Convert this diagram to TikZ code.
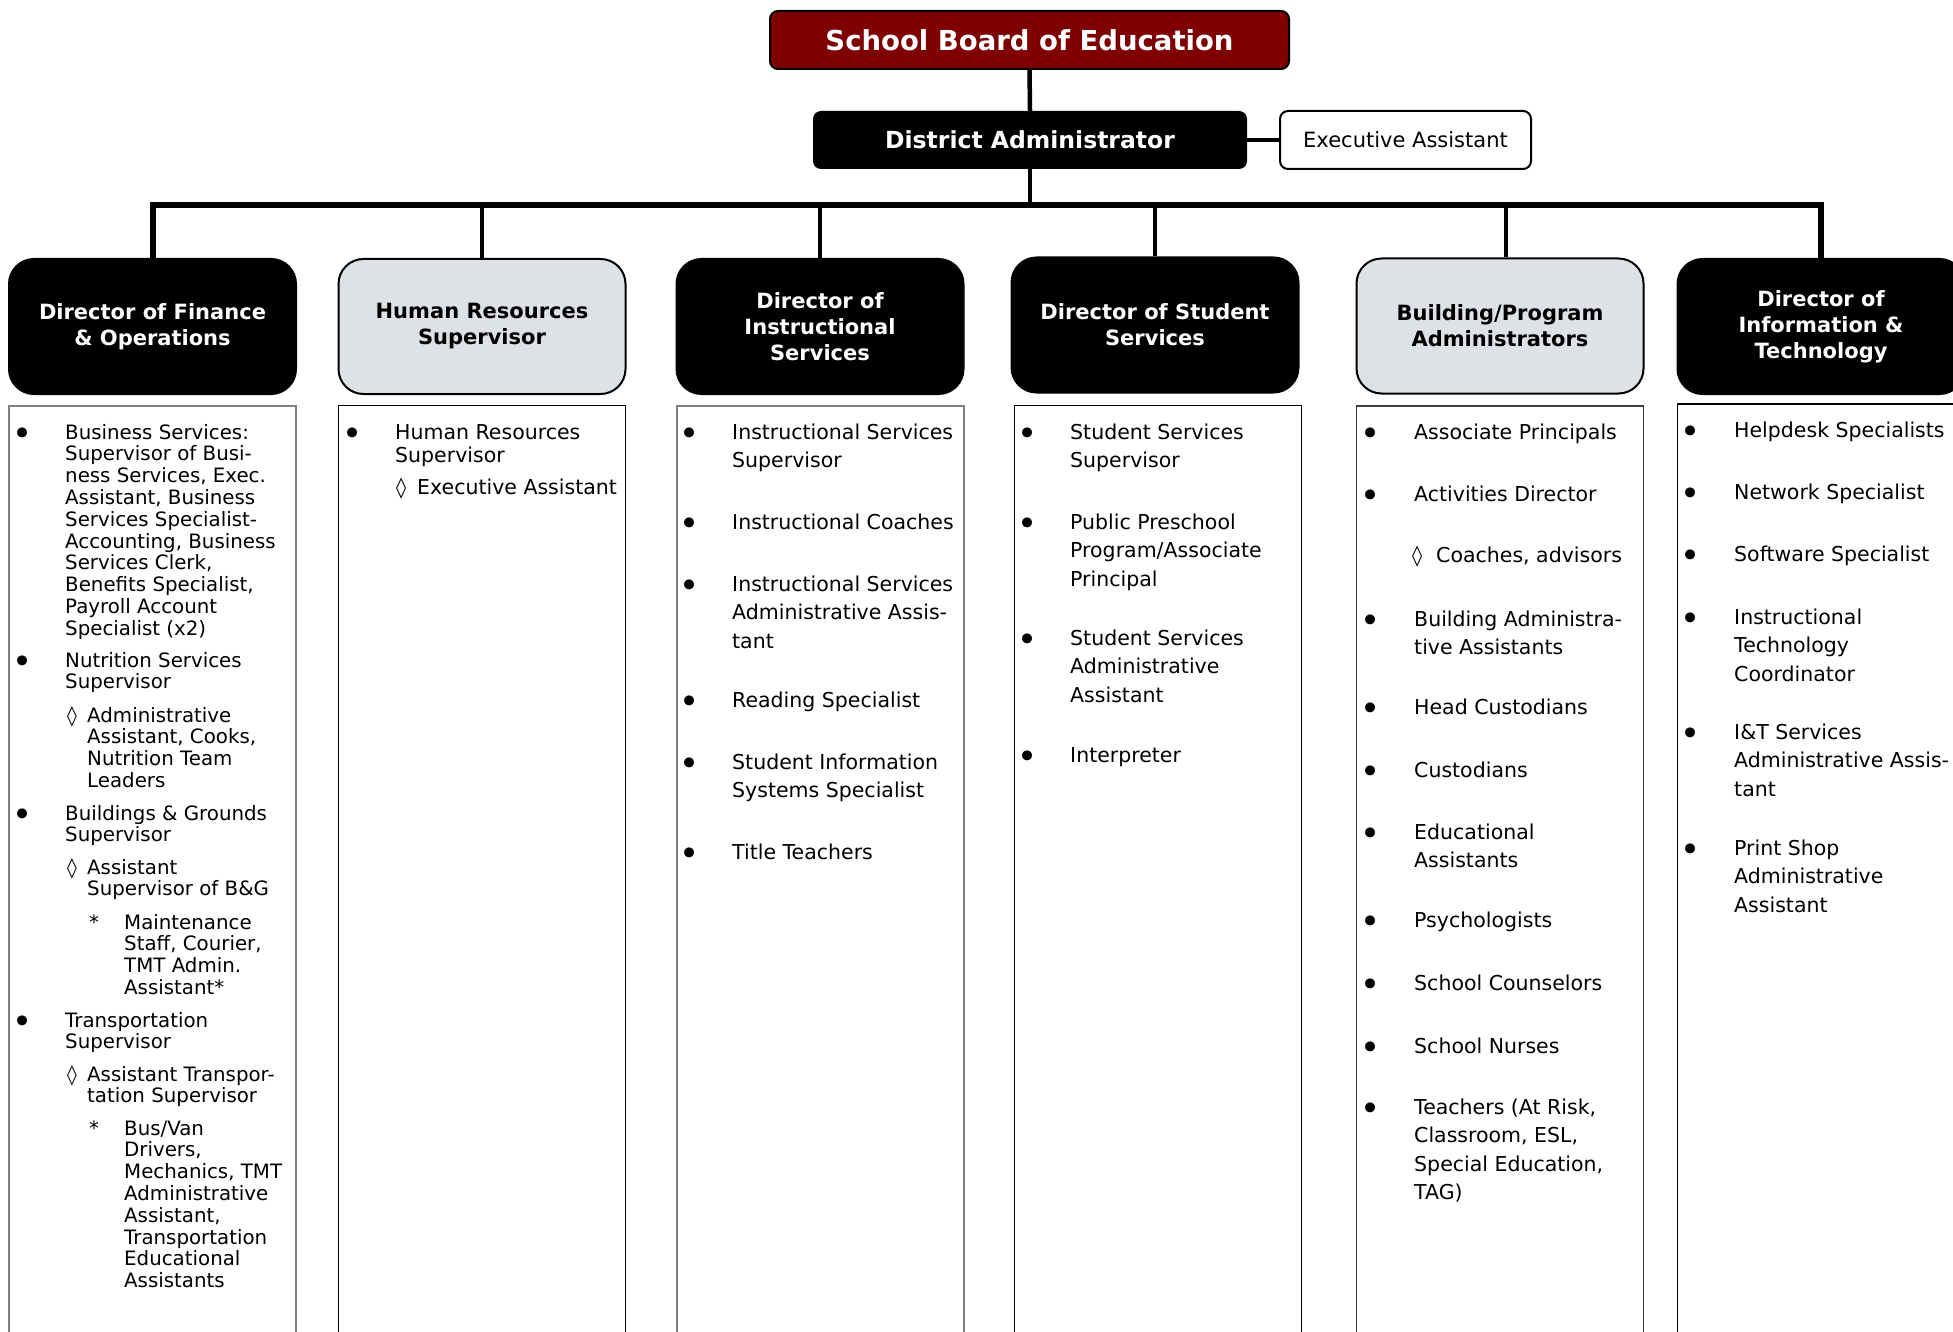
\documentclass[tikz,border=0pt]{standalone}
\usepackage{fontspec}
\setmainfont{DejaVu Sans}
\definecolor{sbred}{HTML}{7F0000}
\definecolor{hdrgray}{HTML}{DEE1E6}
\definecolor{boxgray}{HTML}{808080}
\newcommand{\ml}[1]{\begin{tabular}[t]{@{}l@{}}#1\end{tabular}}
\newcommand{\itmfont}{\fontsize{20.5}{28.6}\selectfont}
\newcommand{\finfont}{\fontsize{19.8}{21.8}\selectfont}
\newcommand{\hrfont}{\fontsize{20.5}{23.7}\selectfont}
\newcommand{\hdrfont}{\bfseries\fontsize{21}{26}\selectfont}
\newcommand{\bulfont}{\fontsize{34}{34}\selectfont}
\newcommand{\B}{{\bulfont •}}
\newcommand{\D}{◊}
\newcommand{\mitem}[6]{%
  \node[mk] (#1m) at (#3,#5) {#2};
  \node[itm] (#1) at (#4,#5) {\ml{#6}};}
\newcommand{\bitem}[5]{%
  \node[bk] (#1m) at (#2,#4) {\B};
  \node[itm] (#1) at (#3,#4) {\ml{#5}};}
\begin{document}
\begin{tikzpicture}[x=1pt,y=-1pt,
  hdr/.style={rounded corners=25pt, minimum width=287pt, minimum height=135pt,
    align=center, font=\hdrfont, line width=2pt, draw=black, inner sep=0pt},
  darkhdr/.style={hdr, fill=black, text=white},
  lighthdr/.style={hdr, fill=hdrgray, text=black},
  lowbox/.style={minimum width=287pt, minimum height=1000pt, inner sep=0pt, anchor=north},
  conn/.style={line width=4.5pt, draw=black},
  barline/.style={line width=6pt, draw=black, line join=miter},
  mk/.style={anchor=base west, inner sep=0pt, font=\itmfont},
  bk/.style={anchor=base, inner sep=0pt, yshift=-6pt},
  itm/.style={anchor=base west, inner sep=0pt, font=\itmfont},
  ]
\useasboundingbox (0,0) rectangle (1953,1332);
\clip (0,0) rectangle (1953,1332);
\fill[white] (0,0) rectangle (1953,1332);

% top
\node[draw=black, line width=2pt, fill=sbred, text=white, rounded corners=8pt,
  minimum width=519pt, minimum height=58pt, font=\bfseries\fontsize{27.5}{30}\selectfont]
  (sb) at (1029.5,40) {School Board of Education};
\node[fill=black, text=white, rounded corners=8pt, minimum width=434pt, minimum height=58pt,
  font=\bfseries\fontsize{23.5}{26}\selectfont] (da) at (1030,140) {District Administrator};
\node[draw=black, line width=2pt, fill=white, rounded corners=8pt, minimum width=251pt,
  minimum height=58pt, font=\fontsize{21}{24}\selectfont] (ea) at (1405.5,140) {Executive Assistant};

% headers
\node[darkhdr] (h1) at (152.5,326.5) {Director of Finance\\\& Operations};
\node[lighthdr] (h2) at (482,326.5) {Human Resources\\Supervisor};
\node[darkhdr] (h3) at (820,326.5) {Director of\\Instructional\\Services};
\node[darkhdr] (h4) at (1155,325) {Director of Student\\Services};
\node[lighthdr] (h5) at (1500,326) {Building/Program\\Administrators};
\node[darkhdr] (h6) at (1821,326.5) {Director of\\Information \&\\Technology};

% connectors
\coordinate (barL) at (152.5,205);
\draw[conn] (sb.south) -- (da.north);
\draw[conn] (da.east) -- (ea.west);
\draw[conn] (da.south) -- (da.south |- barL);
\draw[barline] (h1.north) -- (h1.north |- barL) -- (h6.north |- barL) -- (h6.north);
\draw[conn] (h2.north) -- (h2.north |- barL);
\draw[conn] (h3.north) -- (h3.north |- barL);
\draw[conn] (h4.north) -- (h4.north |- barL);
\draw[conn] ([xshift=6pt]h5.north) -- ([xshift=6pt]h5.north |- barL);

% lower boxes
\node[lowbox, draw=boxgray, line width=2.2pt] (l1) at (152.5,405) {};
\node[lowbox, draw=black, line width=1.4pt] (l2) at (482,405) {};
\node[lowbox, draw=boxgray, line width=2pt] (l3) at (820,405) {};
\node[lowbox, draw=black, line width=1.4pt] (l4) at (1158,405) {};
\node[lowbox, draw=black!75, line width=1.8pt] (l5) at (1500,405) {};
\node[lowbox, draw=black, line width=1.6pt] (l6) at (1821,403) {};

% column 1
\begin{scope}[itm/.append style={font=\finfont}, mk/.append style={font=\finfont}]
\bitem{f1}{23}{65}{439}{Business Services:\\Supervisor of Busi-\\ness Services, Exec.\\Assistant, Business\\Services Specialist-\\Accounting, Business\\Services Clerk,\\Benefits Specialist,\\Payroll Account\\Specialist (x2)}
\bitem{f2}{23}{65}{667}{Nutrition Services\\Supervisor}
\mitem{f2a}{\D}{67}{87}{722}{Administrative\\Assistant, Cooks,\\Nutrition Team\\Leaders}
\bitem{f3}{23}{65}{820}{Buildings \& Grounds\\Supervisor}
\mitem{f3a}{\D}{67}{87}{874}{Assistant\\Supervisor of B\&G}
\mitem{f3b}{*}{89}{124}{929}{Maintenance\\Staff, Courier,\\TMT Admin.\\Assistant*}
\bitem{f4}{23}{65}{1027}{Transportation\\Supervisor}
\mitem{f4a}{\D}{67}{87}{1081}{Assistant Transpor-\\tation Supervisor}
\mitem{f4b}{*}{89}{124}{1135}{Bus/Van\\Drivers,\\Mechanics, TMT\\Administrative\\Assistant,\\Transportation\\Educational\\Assistants}
\end{scope}

% column 2
\begin{scope}[itm/.append style={font=\hrfont}, mk/.append style={font=\hrfont}]
\bitem{r1}{353}{395}{439}{Human Resources\\Supervisor}
\mitem{r1a}{\D}{396}{417}{494}{Executive Assistant}
\end{scope}

% column 3
\bitem{i1}{690}{732}{439}{Instructional Services\\Supervisor}
\bitem{i2}{690}{732}{529}{Instructional Coaches}
\bitem{i3}{690}{732}{591}{Instructional Services\\Administrative Assis-\\tant}
\bitem{i4}{690}{732}{707}{Reading Specialist}
\bitem{i5}{690}{732}{769}{Student Information\\Systems Specialist}
\bitem{i6}{690}{732}{859}{Title Teachers}

% column 4
\bitem{s1}{1028}{1070}{439}{Student Services\\Supervisor}
\bitem{s2}{1028}{1070}{529}{Public Preschool\\Program/Associate\\Principal}
\bitem{s3}{1028}{1070}{645}{Student Services\\Administrative\\Assistant}
\bitem{s4}{1028}{1070}{762}{Interpreter}

% column 5
\bitem{b1}{1371}{1414}{439}{Associate Principals}
\bitem{b2}{1371}{1414}{501}{Activities Director}
\mitem{b2a}{\D}{1412}{1436}{562}{Coaches, advisors}
\bitem{b3}{1371}{1414}{626}{Building Administra-\\tive Assistants}
\bitem{b4}{1371}{1414}{714}{Head Custodians}
\bitem{b5}{1371}{1414}{777}{Custodians}
\bitem{b6}{1371}{1414}{839}{Educational\\Assistants}
\bitem{b7}{1371}{1414}{927}{Psychologists}
\bitem{b8}{1371}{1414}{990}{School Counselors}
\bitem{b9}{1371}{1414}{1053}{School Nurses}
\bitem{b10}{1371}{1414}{1114}{Teachers (At Risk,\\Classroom, ESL,\\Special Education,\\TAG)}

% column 6
\bitem{t1}{1691}{1734}{437}{Helpdesk Specialists}
\bitem{t2}{1691}{1734}{499}{Network Specialist}
\bitem{t3}{1691}{1734}{561}{Software Specialist}
\bitem{t4}{1691}{1734}{624}{Instructional\\Technology\\Coordinator}
\bitem{t5}{1691}{1734}{739}{I\&T Services\\Administrative Assis-\\tant}
\bitem{t6}{1691}{1734}{855}{Print Shop\\Administrative\\Assistant}
\end{tikzpicture}
\end{document}
